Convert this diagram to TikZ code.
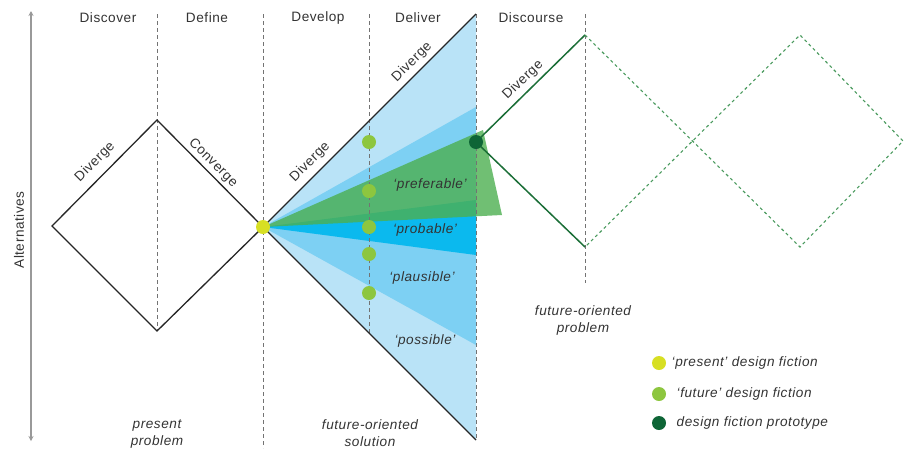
\documentclass[tikz,border=0pt]{standalone}
\usepackage{fontspec}
\setmainfont{Liberation Sans}
\newfontfamily\labelfont{Liberation Sans}[LetterSpace=4]
\usetikzlibrary{positioning}
\usetikzlibrary{arrows.meta}

\definecolor{lightblue}{HTML}{B9E3F7}
\definecolor{midblue}{HTML}{7DD0F3}
\definecolor{brightblue}{HTML}{0BB9EE}
\definecolor{fictiongreen}{HTML}{4CAF50}
\definecolor{pathgreen}{HTML}{1B6E37}
\definecolor{dashgreen}{HTML}{4A9A5E}
\definecolor{presentyellow}{HTML}{D7DF23}
\definecolor{futuregreen}{HTML}{8DC63F}
\definecolor{protogreen}{HTML}{0E6536}
\definecolor{txt}{HTML}{333333}

\begin{document}
\begin{tikzpicture}[
x=1pt, y=-1pt,
phase/.style={font=\labelfont\fontsize{13.6}{15}\selectfont, text=txt},
edgelabel/.style={phase, inner sep=0pt},
scenario/.style={font=\labelfont\itshape\fontsize{13.6}{17}\selectfont, text=txt},
outcome/.style={scenario, align=center},
divider/.style={draw=black!55, dash pattern=on 4pt off 3pt, line width=0.7pt},
phaseline/.style={draw=black!85, line width=1.3pt},
dot/.style={circle, inner sep=0pt, minimum size=14pt},
]
\useasboundingbox (0,0) rectangle (905,448);

%Corners
\coordinate (dl)   at (52,226);
\coordinate (dt)   at (157,120);
\coordinate (db)   at (157,331);
\coordinate (apex) at (263,227);
\coordinate (ctop) at (476,14);
\coordinate (cbot) at (476,440);
\coordinate (gtop) at (585,35);
\coordinate (gbot) at (585,247);
\coordinate (htop) at (800,35);
\coordinate (hbot) at (800,247);
\coordinate (hend) at (903,141);

%Cone of futures
\fill[lightblue] (apex) -- (ctop) -- (cbot) -- cycle;
\fill[midblue] (apex) -- (476,107) -- (476,345) -- cycle;
\fill[brightblue] (apex) -- (476,200) -- (476,255) -- cycle;
\fill[fictiongreen, fill opacity=0.8] (apex) -- (483,130) -- (502,215) -- cycle;

%Dividers
\draw[divider] (157,14) -- (db);
\draw[divider] (263,14) -- (263,448);
\draw[divider] (369,14) -- (369,333);
\draw[divider] (476,14) -- (cbot);
\draw[divider] (585,14) -- (585,283);

%Axis
\coordinate (axtop) at (31,11);
\coordinate (axbot) at (31,441);
\draw[black!40, line width=1.3pt, {Stealth[length=5pt,width=5pt]}-{Stealth[length=5pt,width=5pt]}] (axtop) -- (axbot);
\node[phase, rotate=90] (alt) at (19,230) {Alternatives};

%Lines
\draw[phaseline] (dl) -- (dt) -- (apex) -- (db) -- cycle;
\draw[phaseline] (ctop) -- (apex) -- (cbot);
\draw[pathgreen, line width=1.5pt] (gtop) -- (476,142) -- (gbot);
\draw[dashgreen, line width=1.1pt, dash pattern=on 3pt off 3pt] (gtop) -- (hbot) -- (hend) -- (htop) -- (gbot);

%Phases
\node[phase] (discover)  at (108,18) {Discover};
\node[phase] (define)    at (207,18) {Define};
\node[phase] (develop)   at (318,18) {Develop};
\node[phase] (deliver)   at (418,18) {Deliver};
\node[phase] (discourse) at (531,18) {Discourse};

\node[edgelabel, rotate=45]  (div1) at (95,162)  {Diverge};
\node[edgelabel, rotate=-45] (conv) at (213,163) {Converge};
\node[edgelabel, rotate=45]  (div2) at (310,162) {Diverge};
\node[edgelabel, rotate=45]  (div3) at (412,62)  {Diverge};
\node[edgelabel, rotate=44]  (div4) at (523,80)  {Diverge};

%Futures
\node[scenario] (pref) at (430,185) {‘preferable’};
\node[scenario] (prob) at (425,230) {‘probable’};
\node[scenario] (plau) at (422,278) {‘plausible’};
\node[scenario] (poss) at (425,341) {‘possible’};

\node[outcome] (presprob) at (157,434) {present\\problem};
\node[outcome] (futsol)   at (370,433) {future-oriented\\solution};
\node[outcome] (futprob)  at (583,320) {future-oriented\\problem};

%Fictions
\foreach \y [count=\i] in {142,191,227,254,293}
  \node[dot, fill=futuregreen] (fut\i) at (369,\y) {};
\node[dot, fill=presentyellow] (pres) at (apex) {};
\node[dot, fill=protogreen] (proto) at (476,142) {};

%Key
\node[dot, fill=presentyellow] (key1) at (659,363) {};
\node[dot, fill=futuregreen]   (key2) at (659,394) {};
\node[dot, fill=protogreen]    (key3) at (659,423) {};
\node[scenario, right=2pt of key1] (keytext1) {‘present’ design fiction};
\node[scenario, right=7pt of key2] (keytext2) {‘future’ design fiction};
\node[scenario, right=7pt of key3] (keytext3) {design fiction prototype};
\end{tikzpicture}
\end{document}
